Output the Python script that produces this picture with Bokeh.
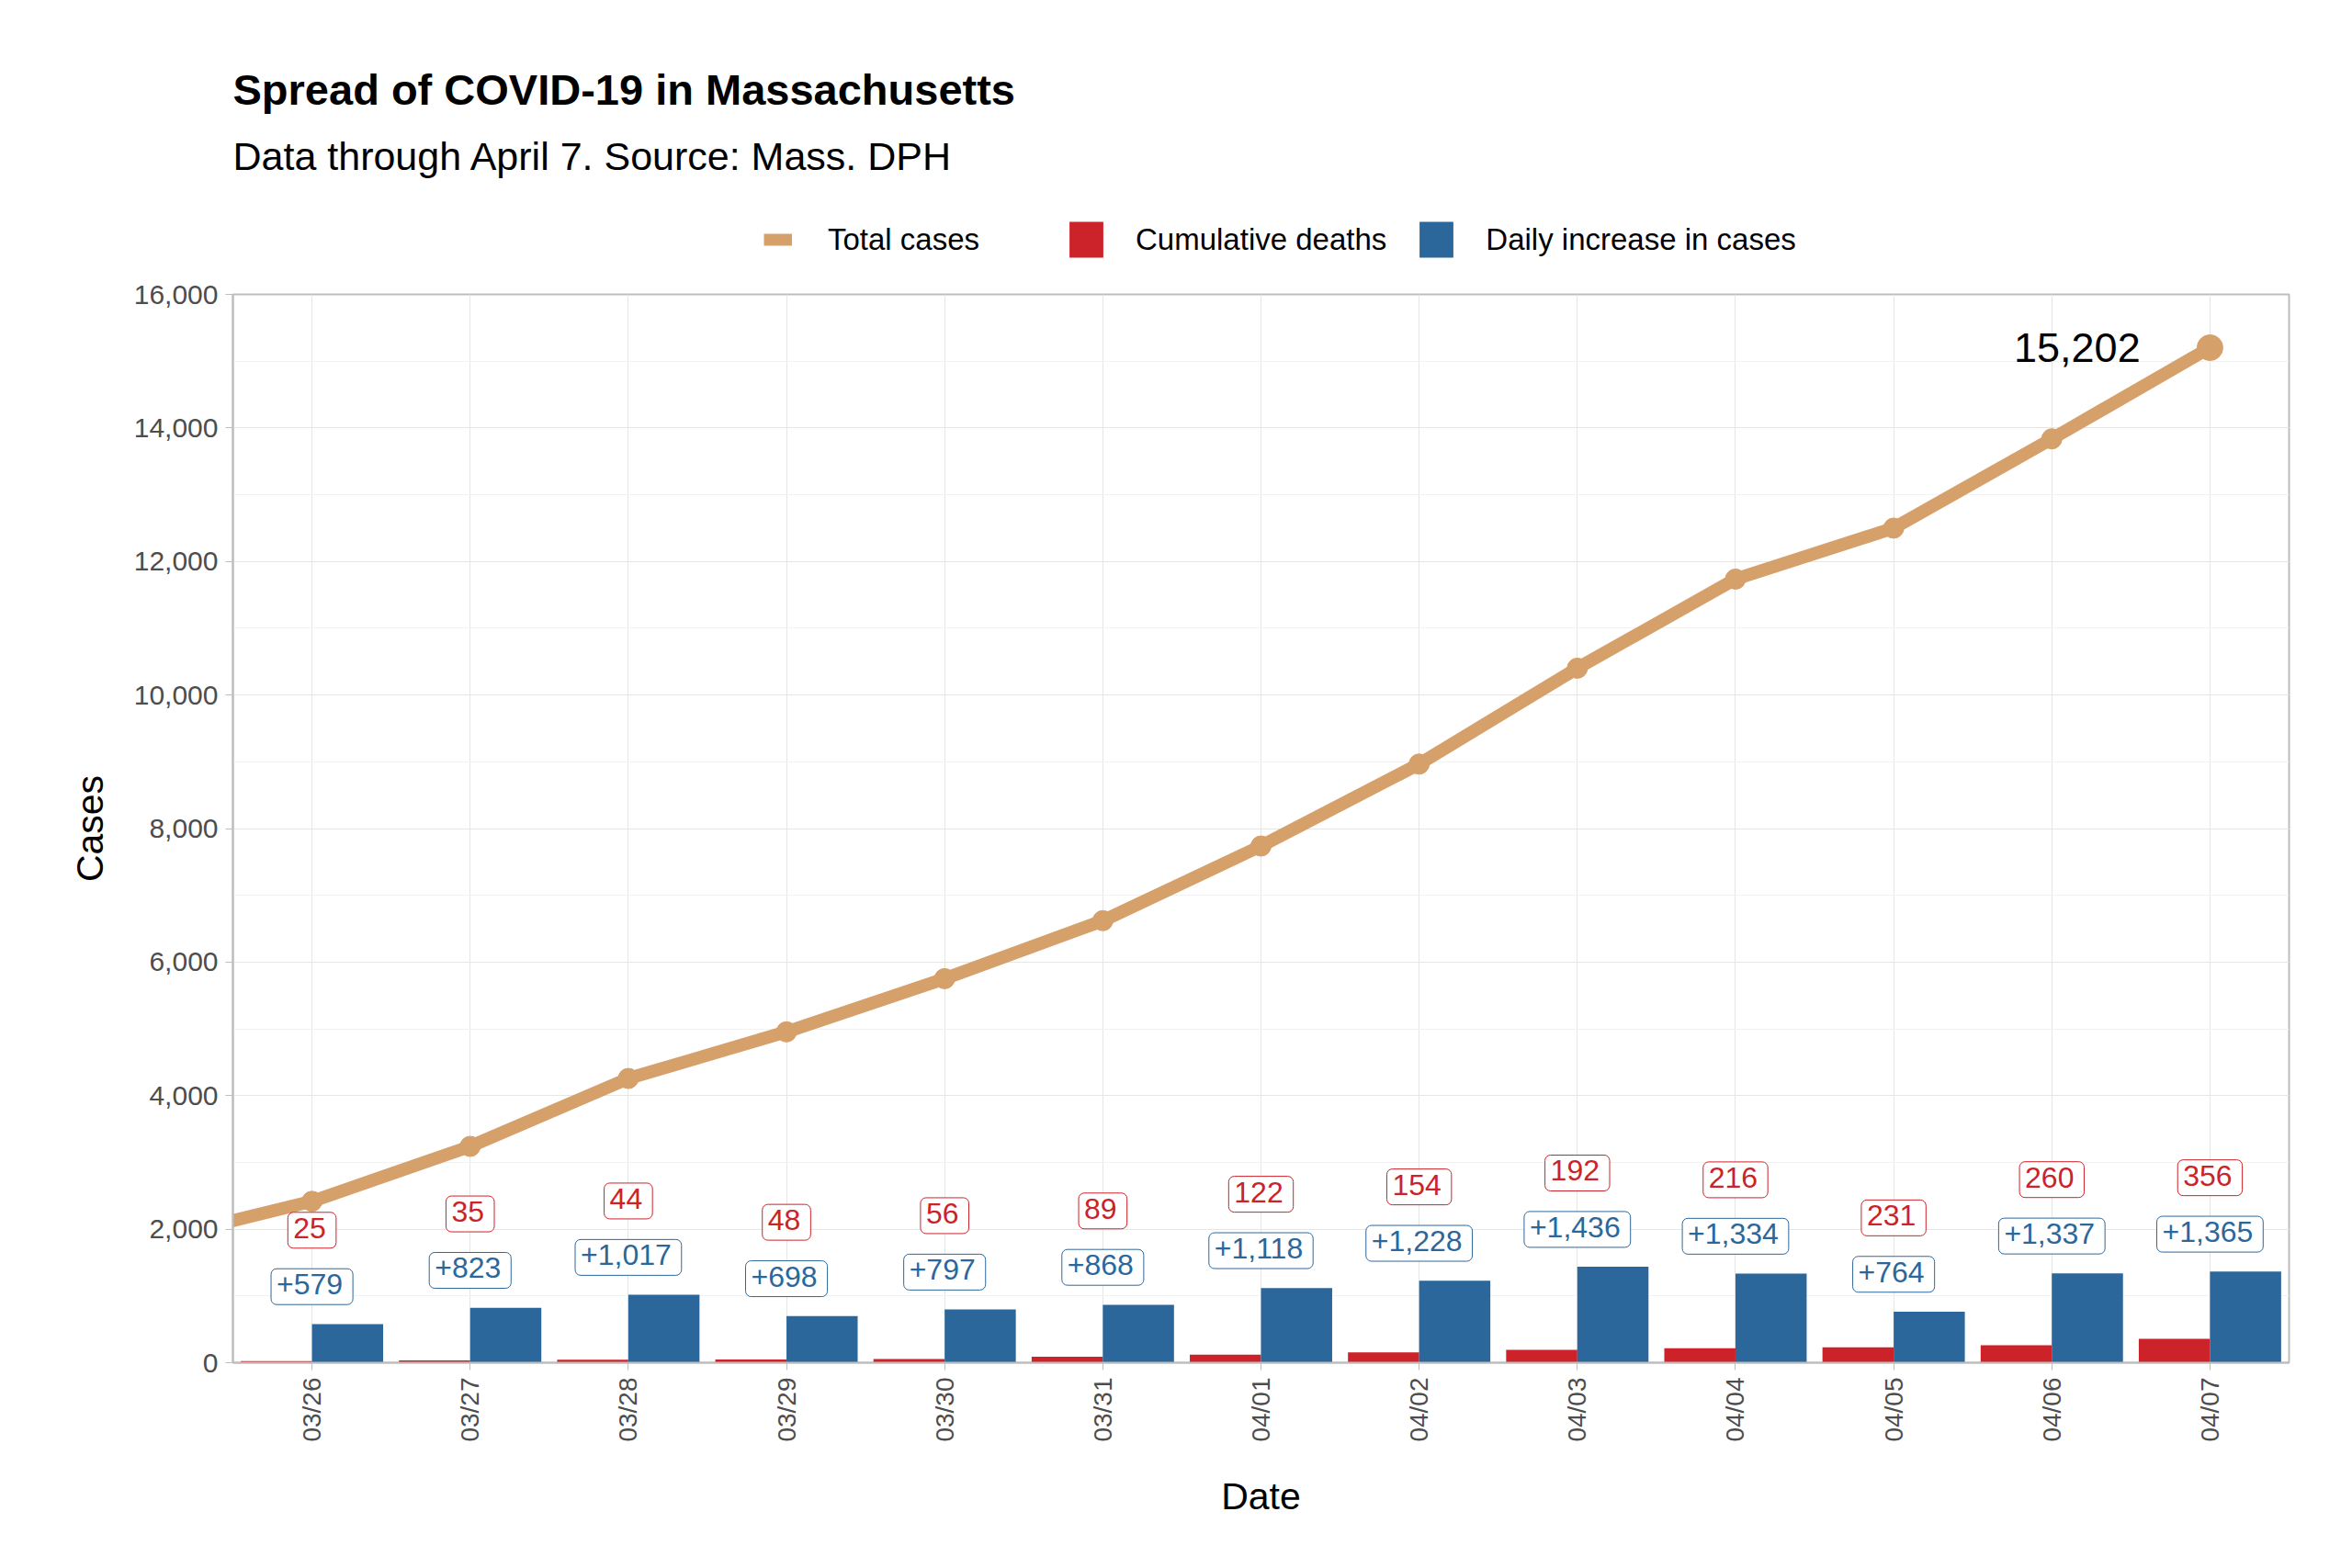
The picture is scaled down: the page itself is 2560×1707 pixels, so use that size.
import numpy as np
from bokeh.plotting import figure
from bokeh.layouts import column
from bokeh.models import (Range1d, FixedTicker, SingleIntervalTicker, NumeralTickFormatter,
                          Legend, LegendItem, ColumnDataSource)
from bokeh.core.properties import value
from bokeh.embed import file_html
from bokeh.resources import INLINE

# ---------------- data ----------------
dates = ["03/26", "03/27", "03/28", "03/29", "03/30", "03/31", "04/01",
         "04/02", "04/03", "04/04", "04/05", "04/06", "04/07"]
total_cases = [2417, 3240, 4257, 4955, 5752, 6620, 7738, 8966, 10402, 11736, 12500, 13837, 15202]
prior_day_total = 1838  # 03/25, just left of the visible range
deaths = [25, 35, 44, 48, 56, 89, 122, 154, 192, 216, 231, 260, 356]
daily_increase = [579, 823, 1017, 698, 797, 868, 1118, 1228, 1436, 1334, 764, 1337, 1365]
y_ticks = [0, 2000, 4000, 6000, 8000, 10000, 12000, 14000, 16000]

title_text = "Spread of COVID-19 in Massachusetts"
subtitle_text = "Data through April 7. Source: Mass. DPH"
legend_labels = ["Total cases", "Cumulative deaths", "Daily increase in cases"]

TAN = "#D6A06B"
RED = "#CC2229"
BLUE = "#2C679B"
FONT = "Liberation Sans"

W = 2560
TOP_H = 300
FRAME_L, FRAME_R = 253, 69
FRAME_W = W - FRAME_L - FRAME_R

# ---------------- header figure (title, subtitle, legend) ----------------
# its frame is aligned with the chart frame by the column layout
top = figure(width=W, height=TOP_H, output_backend="svg", toolbar_location=None,
             x_range=Range1d(0, FRAME_W), y_range=Range1d(0, TOP_H),
             x_axis_location=None, y_axis_location=None,
             min_border=0, min_border_left=0, min_border_right=0,
             min_border_top=0, min_border_bottom=0,
             outline_line_color=None, background_fill_color="white",
             border_fill_color="white")
top.grid.visible = False
top.title.visible = False

top.text(x=[0], y=[TOP_H - 97], text=[title_text], text_color="black",
         text_font=value(FONT), text_font_size="47px", text_font_style="bold",
         text_align="left", text_baseline="alphabetic")
top.text(x=[0], y=[TOP_H - 169], text=[subtitle_text], text_color="black",
         text_font=value(FONT), text_font_size="43px",
         text_align="left", text_baseline="alphabetic")

# legend key renderers (single point outside the visible header range)
k_line = top.line(x=[-50, -40], y=[-50, -50], line_width=13, color=TAN)
k_red = top.vbar(x=[-50], top=[-40], bottom=[-50], width=1, color=RED, line_color=None)
k_blue = top.vbar(x=[-50], top=[-40], bottom=[-50], width=1, color=BLUE, line_color=None)

leg_common = dict(orientation="horizontal", label_text_font=FONT, label_text_font_size="33px",
                  label_text_color="black", border_line_color=None, background_fill_alpha=0,
                  padding=5, margin=0, glyph_height=49)
legA = Legend(items=[LegendItem(label=legend_labels[0], renderers=[k_line])],
              location=(831 - FRAME_L, 15), glyph_width=31, label_standoff=39, **leg_common)
legB = Legend(items=[LegendItem(label=legend_labels[1], renderers=[k_red]),
                     LegendItem(label=legend_labels[2], renderers=[k_blue])],
              location=(1159 - FRAME_L, 15), glyph_width=46, label_standoff=31, spacing=31,
              **leg_common)
top.add_layout(legA, "center")
top.add_layout(legB, "center")

# ---------------- main chart ----------------
x = np.arange(1, len(dates) + 1)
BAR_W = 0.45
BLUE_LABEL_OFF = 560
RED_LABEL_OFF = 1405

src = ColumnDataSource(dict(
    x=x,
    x_red=x - BAR_W / 2,
    x_blue=x + BAR_W / 2,
    total=total_cases,
    deaths=deaths,
    daily=daily_increase,
    death_lbl=[str(d) for d in deaths],
    daily_lbl=["+{:,}".format(d) for d in daily_increase],
    y_red_lbl=[d + RED_LABEL_OFF for d in daily_increase],
    y_blue_lbl=[d + BLUE_LABEL_OFF for d in daily_increase],
))

line_x = np.concatenate([[0], x])
line_y = [prior_day_total] + total_cases

p = figure(width=W, height=1707 - TOP_H, output_backend="svg", toolbar_location=None,
           x_range=Range1d(0.5, len(dates) + 0.5), y_range=Range1d(0, 16000),
           min_border_left=FRAME_L, min_border_right=FRAME_R, min_border_top=20,
           min_border_bottom=224, background_fill_color="white", border_fill_color="white")
p.title.visible = False

# bars
p.vbar(x="x_red", top="deaths", width=BAR_W, source=src, color=RED, line_color=None)
p.vbar(x="x_blue", top="daily", width=BAR_W, source=src, color=BLUE, line_color=None)

# line
p.line(line_x, line_y, line_width=14, color=TAN, line_join="round")
p.scatter(x[:-1], total_cases[:-1], size=22, color=TAN)
p.scatter(x[-1:], total_cases[-1:], size=28, color=TAN)

# labels
p.text(x="x", y="y_red_lbl", text="death_lbl", source=src, text_color=RED,
       text_font=value(FONT), text_font_size="32px", text_align="center", text_baseline="middle",
       background_fill_color="white", border_line_color=RED, border_line_width=1,
       padding=(6, 11, 6, 11), border_radius=6)
p.text(x="x", y="y_blue_lbl", text="daily_lbl", source=src, text_color=BLUE,
       text_font=value(FONT), text_font_size="32px", text_align="center", text_baseline="middle",
       background_fill_color="white", border_line_color=BLUE, border_line_width=1,
       padding=(6, 11, 6, 11), border_radius=6)
p.text(x=[x[-1] - 0.44], y=[total_cases[-1]], text=["{:,}".format(total_cases[-1])],
       text_color="black", text_font=value(FONT), text_font_size="45px",
       text_align="right", text_baseline="middle")

# axes
p.xaxis.ticker = FixedTicker(ticks=list(x))
p.xaxis.major_label_overrides = {int(i): d for i, d in zip(x, dates)}
p.xaxis.major_label_orientation = np.pi / 2
p.yaxis.ticker = SingleIntervalTicker(interval=2000, num_minor_ticks=2)
p.yaxis.formatter = NumeralTickFormatter(format="0,0")
for ax in (p.xaxis[0], p.yaxis[0]):
    ax.major_label_text_font = FONT
    ax.major_label_text_font_size = "30px"
    ax.major_label_text_color = "#4D4D4D"
    ax.axis_label_text_font = FONT
    ax.axis_label_text_font_size = "41px"
    ax.axis_label_text_font_style = "normal"
    ax.axis_label_text_color = "black"
    ax.axis_line_color = "#BDBDBD"
    ax.axis_line_width = 2
    ax.major_tick_line_color = "#BDBDBD"
    ax.major_tick_out = 8
    ax.major_tick_in = 0
    ax.minor_tick_line_color = None
    ax.major_label_standoff = 8
p.xaxis.major_label_text_font_size = "28px"
p.xaxis.axis_label = "Date"
p.yaxis.axis_label = "Cases"
p.yaxis.axis_label_standoff = 22
p.xaxis.axis_label_standoff = 33

p.xgrid.ticker = FixedTicker(ticks=list(x))
p.xgrid.grid_line_color = "#E6E6E6"
p.ygrid.grid_line_color = "#E6E6E6"
p.ygrid.minor_grid_line_color = "#F2F2F2"
p.outline_line_color = "#BDBDBD"
p.outline_line_width = 2

layout = column(top, p, spacing=0)
open("out.html", "w").write(file_html(layout, INLINE))
